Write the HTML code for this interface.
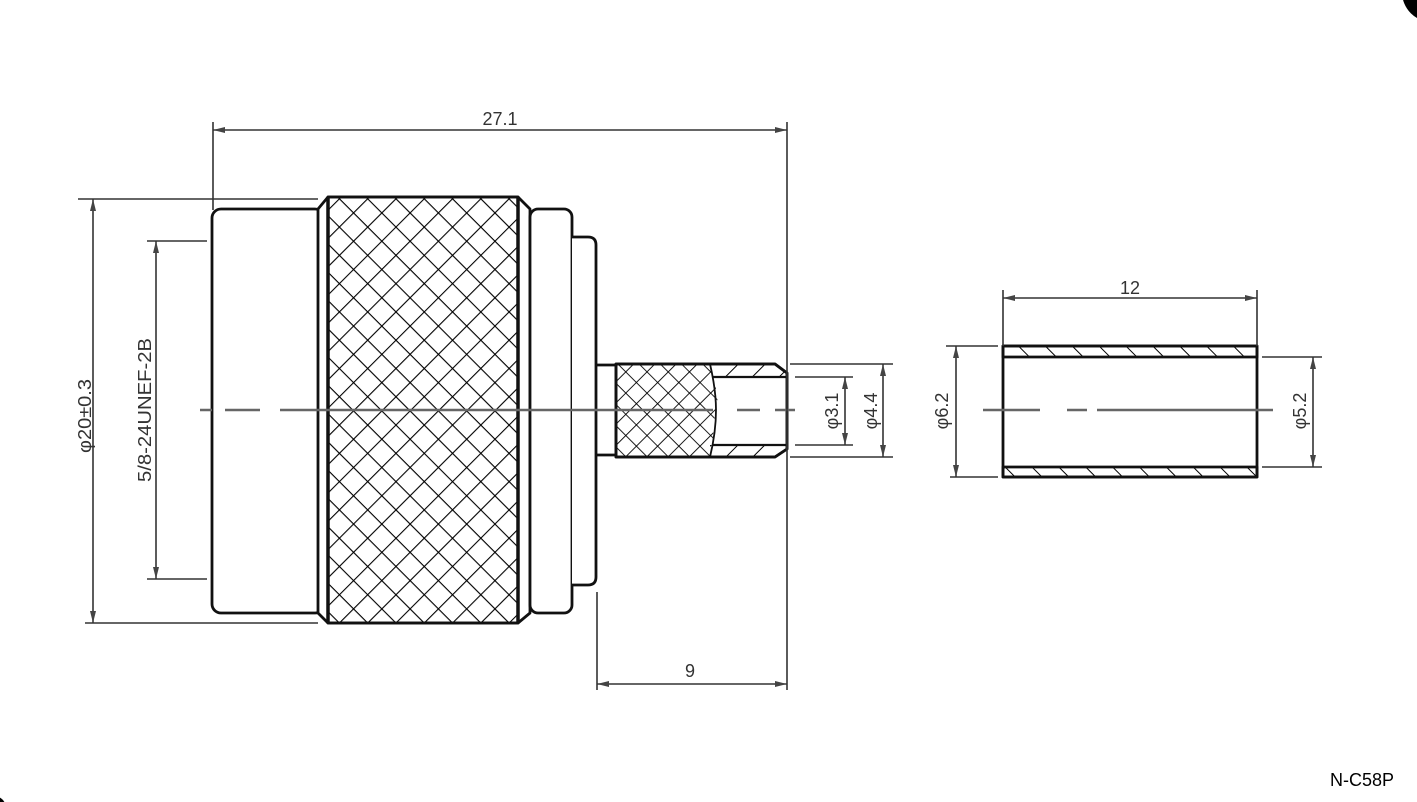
<!DOCTYPE html>
<html><head><meta charset="utf-8"><style>
html,body{margin:0;padding:0;background:#fff;}
svg{display:block;}
text{font-family:"Liberation Sans","DejaVu Sans",sans-serif;fill:#333;font-size:18px;}
</style></head><body>
<svg width="1417" height="802" viewBox="0 0 1417 802" xmlns="http://www.w3.org/2000/svg">
<defs>
<pattern id="kn" width="20" height="20" patternUnits="userSpaceOnUse" patternTransform="rotate(45)">
<path d="M0 0H20M0 0V20" stroke="#000" stroke-width="2.2" fill="none"/>
</pattern>
<pattern id="kn2" width="15" height="15" patternUnits="userSpaceOnUse" patternTransform="rotate(45)">
<path d="M0 0H15M0 0V15" stroke="#000" stroke-width="1.8" fill="none"/>
</pattern>
<pattern id="ht" width="19" height="19" patternUnits="userSpaceOnUse" patternTransform="rotate(-45)">
<path d="M0 0V19" stroke="#000" stroke-width="2"/>
</pattern>
<pattern id="ht2" width="19" height="19" patternUnits="userSpaceOnUse" patternTransform="rotate(45)">
<path d="M0 0V19" stroke="#000" stroke-width="2"/>
</pattern>
<marker id="a" viewBox="0 0 12 6" refX="12" refY="3" markerWidth="12" markerHeight="6" markerUnits="userSpaceOnUse" orient="auto-start-reverse">
<path d="M0 0L12 3L0 6z" fill="#444"/>
</marker>
</defs>

<circle cx="1432" cy="-8" r="30" fill="#000"/>
<circle cx="-6" cy="808" r="12" fill="#000"/>

<g stroke="#111" stroke-width="2.8" fill="#fff" stroke-linejoin="round">
<rect x="212" y="209" width="112" height="404" rx="9"/>
<path d="M318 209 L328 197 L518 197 L530 209 L530 613 L518 623 L328 623 L318 613 Z"/>
<rect x="328" y="197" width="190" height="426" fill="url(#kn)"/>
<line x1="328" y1="197" x2="328" y2="623" stroke-width="3.5"/>
<line x1="518" y1="197" x2="518" y2="623" stroke-width="3.5"/>
<rect x="530" y="209" width="42" height="404" rx="8"/>
<path d="M572 237 L588 237 Q596 237 596 245 L596 577 Q596 585 588 585 L572 585"/>
<path d="M596 365 L616 365 M596 455 L616 455" />
<path d="M616 364 L775 364 L787 373 L787 449 L775 457 L616 457 Z"/>
<path d="M616 364 L710 364 L713 378 L718 395 L716 410 L713 428 L714 445 L710 457 L616 457 Z" fill="url(#kn2)" stroke="none"/>
<path d="M710 364 L775 364 L787 373 L787 377 L710 377 Z" fill="url(#ht2)" stroke="none"/>
<path d="M710 445 L787 445 L787 449 L775 457 L710 457 Z" fill="url(#ht2)" stroke="none"/>
<path d="M616 364 L775 364 L787 373 L787 449 L775 457 L616 457 Z" fill="none"/>
<path d="M710 364 Q716 390 716 410 Q716 432 710 457" fill="none" stroke-width="1.8"/>
<path d="M712 377 L787 377 M712 445 L787 445" fill="none" stroke-width="2.2"/>
<rect x="1003" y="346" width="254" height="131"/>
<rect x="1003" y="346" width="254" height="11" fill="url(#ht)" stroke-width="2.8"/>
<rect x="1003" y="467" width="254" height="10" fill="url(#ht)" stroke-width="2.8"/>
</g>

<g stroke="#666" stroke-width="2.5" fill="none">
<path d="M200 410H212M225 410H260M280 410H713M737 410H760M775 410H795"/>
<path d="M983 410H1040M1067 410H1087M1097 410H1273"/>
</g>

<g stroke="#333" stroke-width="1.6" fill="none">
<path d="M213 122V210M787 122V690"/>
<line x1="213" y1="130" x2="787" y2="130" marker-start="url(#a)" marker-end="url(#a)"/>
<path d="M78 199H318M85 623H318"/>
<line x1="93" y1="199" x2="93" y2="623" marker-start="url(#a)" marker-end="url(#a)"/>
<path d="M147 241H207M147 579H207"/>
<line x1="156" y1="241" x2="156" y2="579" marker-start="url(#a)" marker-end="url(#a)"/>
<path d="M597 592V690"/>
<line x1="597" y1="684" x2="787" y2="684" marker-start="url(#a)" marker-end="url(#a)"/>
<path d="M795 377H853M795 445H853M790 364H893M790 457H893"/>
<line x1="845" y1="377" x2="845" y2="445" marker-start="url(#a)" marker-end="url(#a)"/>
<line x1="883" y1="364" x2="883" y2="457" marker-start="url(#a)" marker-end="url(#a)"/>
<path d="M1003 290V346M1257 290V346"/>
<line x1="1003" y1="298" x2="1257" y2="298" marker-start="url(#a)" marker-end="url(#a)"/>
<path d="M946 346H998M950 477H998"/>
<line x1="956" y1="346" x2="956" y2="477" marker-start="url(#a)" marker-end="url(#a)"/>
<path d="M1262 357H1322M1262 467H1322"/>
<line x1="1313" y1="357" x2="1313" y2="467" marker-start="url(#a)" marker-end="url(#a)"/>
</g>

<text x="500" y="125" text-anchor="middle">27.1</text>
<text x="690" y="677" text-anchor="middle">9</text>
<text x="1130" y="294" text-anchor="middle">12</text>
<text transform="translate(91,416) rotate(-90)" text-anchor="middle" textLength="74" lengthAdjust="spacingAndGlyphs">φ20±0.3</text>
<text transform="translate(151,410) rotate(-90)" text-anchor="middle" textLength="144" lengthAdjust="spacingAndGlyphs">5/8-24UNEF-2B</text>
<text transform="translate(838,411) rotate(-90)" text-anchor="middle">φ3.1</text>
<text transform="translate(877,411) rotate(-90)" text-anchor="middle">φ4.4</text>
<text transform="translate(948,411) rotate(-90)" text-anchor="middle">φ6.2</text>
<text transform="translate(1306,411) rotate(-90)" text-anchor="middle">φ5.2</text>
<text x="1362" y="786" text-anchor="middle" style="fill:#000;font-size:18px">N-C58P</text>
</svg>
</body></html>
